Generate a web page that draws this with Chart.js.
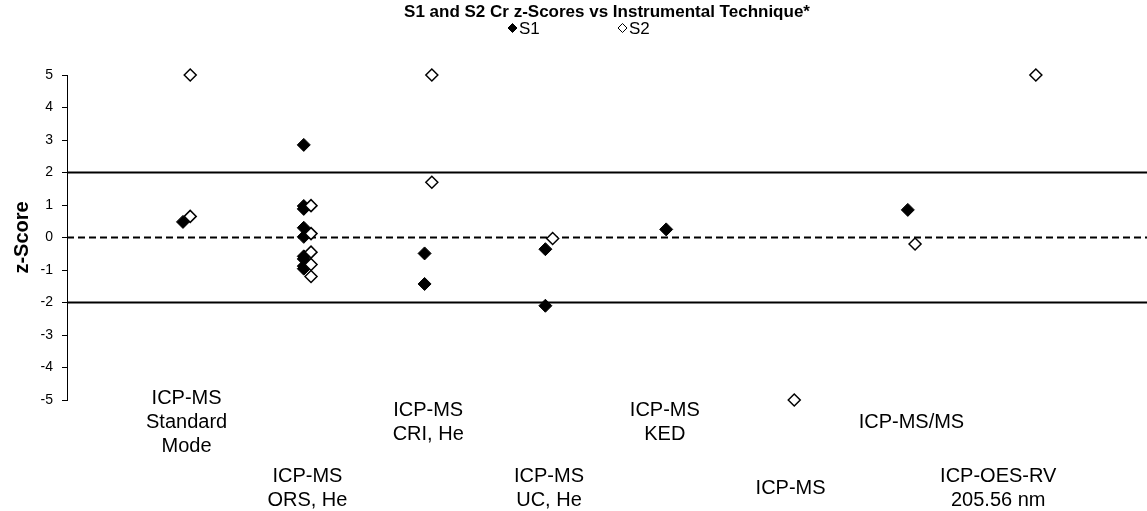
<!DOCTYPE html>
<html>
<head>
<meta charset="utf-8">
<script src="https://cdn.jsdelivr.net/npm/chart.js@4.4.0/dist/chart.umd.min.js"></script>
<style>
html, body { margin: 0; padding: 0; background: #fff; }
</style>
</head>
<body>
<canvas id="zChart" width="1147" height="511"></canvas>
<script>
//Category labels (one entry per line of text)
var categories = [
    ["ICP-MS", "Standard", "Mode"],
    ["ICP-MS", "ORS, He"],
    ["ICP-MS", "CRI, He"],
    ["ICP-MS", "UC, He"],
    ["ICP-MS", "KED"],
    ["ICP-MS"],
    ["ICP-MS/MS"],
    ["ICP-OES-RV", "205.56 nm"]
];

//z-scores per category, S1 and S2
var s1Scores = [
    [0.48],
    [2.85, 0.97, 0.88, 0.30, 0.02, -0.58, -0.66, -0.88, -0.96],
    [-0.49, -1.43],
    [-0.36, -2.10],
    [0.25],
    [],
    [0.85],
    []
];
var s2Scores = [
    [5, 0.65],
    [0.98, 0.12, -0.45, -0.83, -1.20],
    [5, 1.70],
    [-0.03],
    [],
    [-5],
    [-0.20],
    [5]
];

var yTicks = [-5, -4, -3, -2, -1, 0, 1, 2, 3, 4, 5];
var limitLines = [2, -2];
var centerLine = 0;

var FONT = "'Liberation Sans', Arial, sans-serif";
var xMin = 0.04, xMax = 8.98;
var s2Shift = 0.06;
//small nudges for the category text boxes (px)
var labelNudge = [0, 0, 0, 0, -5, 0, 0, -34];

//Turn the per-category lists into x,y points
var toPoints = function (lists, shift) {
    var pts = [];
    for (var i = 0; i < lists.length; i++) {
        for (var j = 0; j < lists[i].length; j++) {
            pts.push({ x: i + 1 + shift, y: lists[i][j] });
        }
    }
    return pts;
};

var hLine = function (y, dash) {
    return {
        label: "line" + y,
        data: [{ x: xMin, y: y }, { x: xMax, y: y }],
        showLine: true,
        borderColor: "#000",
        borderWidth: 2,
        borderDash: dash,
        pointRadius: 0,
        order: 3
    };
};

var datasets = [
    {
        label: "S1",
        data: toPoints(s1Scores, 0),
        pointStyle: "rectRot",
        pointRadius: 6.5,
        pointHoverRadius: 6.5,
        backgroundColor: "#000",
        borderColor: "#000",
        borderWidth: 1,
        clip: false,
        order: 2
    },
    {
        label: "S2",
        data: toPoints(s2Scores, s2Shift),
        pointStyle: "rectRot",
        pointRadius: 6,
        pointHoverRadius: 6,
        backgroundColor: "#fff",
        borderColor: "#000",
        borderWidth: 1.5,
        clip: false,
        order: 1
    },
    hLine(limitLines[0], []),
    hLine(limitLines[1], []),
    hLine(centerLine, [7, 4])
];

//Legend drawn under the title
var legendPlugin = {
    id: "zLegend",
    afterDraw: function (chart) {
        var ctx = chart.ctx;
        var cx = chart.width / 2;
        var y = 28;
        var items = [
            { text: "S1", x: cx - 61, fill: "#000" },
            { text: "S2", x: cx + 49, fill: "#fff" }
        ];
        ctx.save();
        ctx.font = "17px " + FONT;
        ctx.textBaseline = "middle";
        for (var i = 0; i < items.length; i++) {
            var it = items[i];
            var r = 4.5;
            ctx.beginPath();
            ctx.moveTo(it.x - r, y);
            ctx.lineTo(it.x, y - r);
            ctx.lineTo(it.x + r, y);
            ctx.lineTo(it.x, y + r);
            ctx.closePath();
            ctx.fillStyle = it.fill;
            ctx.fill();
            ctx.lineWidth = 1;
            ctx.strokeStyle = "#000";
            ctx.stroke();
            ctx.fillStyle = "#000";
            ctx.textAlign = "left";
            ctx.fillText(it.text, it.x + r + 2, y + 1);
        }
        ctx.restore();
    }
};

//Category names placed under the plot, alternating rows
var categoryPlugin = {
    id: "zCategories",
    afterDraw: function (chart) {
        var ctx = chart.ctx;
        var xs = chart.scales.x;
        var bottom = chart.chartArea.bottom;
        var lineH = 24;
        ctx.save();
        ctx.font = "20px " + FONT;
        ctx.fillStyle = "#000";
        ctx.textAlign = "center";
        ctx.textBaseline = "middle";
        for (var i = 0; i < categories.length; i++) {
            var lines = categories[i];
            var cx = xs.getPixelForValue(i + 1 + s2Shift / 2) + labelNudge[i];
            var cy = bottom + (i % 2 === 0 ? 22 : 88);
            var top = cy - (lines.length - 1) * lineH / 2;
            for (var j = 0; j < lines.length; j++) {
                ctx.fillText(lines[j], cx, top + j * lineH);
            }
        }
        ctx.restore();
    }
};

var zChart = new Chart(document.getElementById("zChart").getContext("2d"), {
    type: "scatter",
    data: { datasets: datasets },
    options: {
        responsive: false,
        animation: false,
        events: [],
        layout: {
            autoPadding: false,
            padding: { top: 0, left: 0, right: 0, bottom: 111 }
        },
        scales: {
            x: {
                type: "linear",
                display: false,
                min: xMin,
                max: xMax
            },
            y: {
                min: yTicks[0],
                max: yTicks[yTicks.length - 1],
                afterFit: function (scale) { scale.width = 67; },
                afterBuildTicks: function (scale) {
                    scale.ticks = yTicks.map(function (v) { return { value: v }; });
                },
                border: { display: true, color: "#000", width: 1 },
                grid: {
                    drawOnChartArea: false,
                    drawTicks: true,
                    tickLength: 5,
                    color: "#000"
                },
                ticks: {
                    color: "#000",
                    padding: 9,
                    font: { family: FONT, size: 14 }
                },
                title: {
                    display: true,
                    text: "z-Score",
                    color: "#000",
                    padding: { top: 10, bottom: 0 },
                    font: { family: FONT, size: 20, weight: "bold" }
                }
            }
        },
        plugins: {
            legend: { display: false },
            tooltip: { enabled: false },
            title: {
                display: true,
                fullSize: false,
                text: "S1 and S2 Cr z-Scores vs Instrumental Technique*",
                color: "#000",
                padding: { top: 2, bottom: 52.6 },
                font: { family: FONT, size: 17, weight: "bold" }
            }
        }
    },
    plugins: [legendPlugin, categoryPlugin]
});
</script>
</body>
</html>
